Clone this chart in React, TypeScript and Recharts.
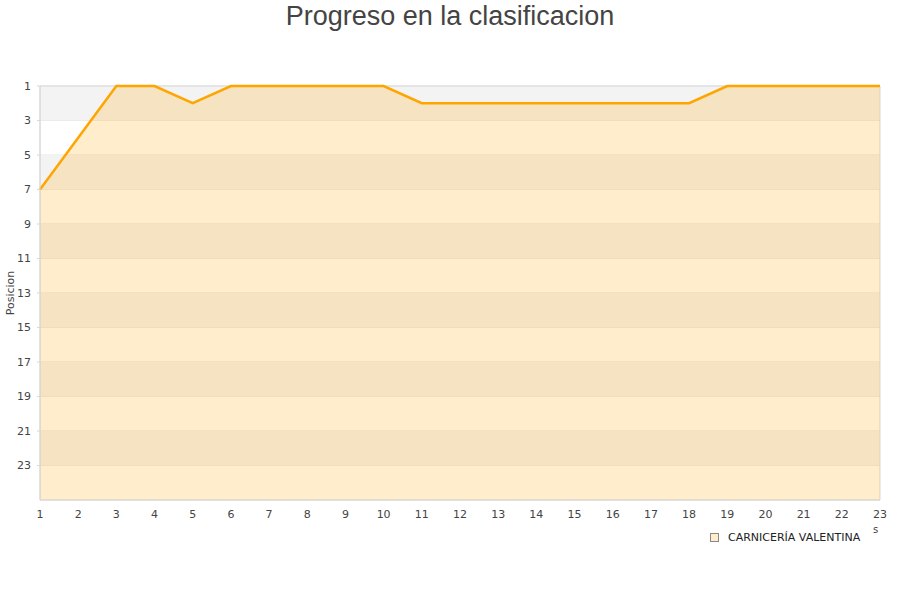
import {
  ComposedChart,
  Area,
  XAxis,
  YAxis,
  CartesianGrid,
  ReferenceArea,
  Legend,
} from "recharts";

const jornadas = [1, 2, 3, 4, 5, 6, 7, 8, 9, 10, 11, 12, 13, 14, 15, 16, 17, 18, 19, 20, 21, 22, 23];
const posiciones = [7, 4, 1, 1, 2, 1, 1, 1, 1, 1, 2, 2, 2, 2, 2, 2, 2, 2, 1, 1, 1, 1, 1];
const yTicks = [1, 3, 5, 7, 9, 11, 13, 15, 17, 19, 21, 23];
const grayBands = [
  [1, 3],
  [5, 7],
  [9, 11],
  [13, 15],
  [17, 19],
  [21, 23],
];

const teamName = "CARNICERÍA VALENTINA";

const data = jornadas.map((j, i) => ({ jornada: j, pos: posiciones[i] }));

const FONT = "'DejaVu Sans', sans-serif";

// eslint-disable-next-line @typescript-eslint/no-explicit-any
function YLabel({ viewBox }: any) {
  const cy = viewBox.y + viewBox.height / 2;
  return (
    <text
      x={14}
      y={cy}
      transform={`rotate(-90, 14, ${cy})`}
      textAnchor="middle"
      fontSize={11}
      fill="#444"
      fontFamily={FONT}
    >
      Posicion
    </text>
  );
}

function LegendBox() {
  return (
    <div style={{ display: "flex", alignItems: "center", fontFamily: FONT, fontSize: 11, color: "#222" }}>
      <span
        style={{
          display: "inline-block",
          width: 7,
          height: 7,
          border: "1px solid #888",
          background: "#ffedcc",
          marginRight: 9,
        }}
      />
      {teamName}
    </div>
  );
}

export default function App() {
  return (
    <div style={{ position: "absolute", left: 0, top: 0, width: 900, height: 600, background: "#fff" }}>
      <div
        style={{
          position: "absolute",
          top: 0,
          left: 0,
          width: 900,
          textAlign: "center",
          fontFamily: "'Liberation Sans', Arial, sans-serif",
          fontSize: 27,
          color: "#444",
          lineHeight: "32px",
        }}
      >
        Progreso en la clasificacion
      </div>
      <span
        style={{ position: "absolute", left: 873, top: 524, fontFamily: FONT, fontSize: 10, color: "#444" }}
      >
        s
      </span>
      <ComposedChart
        width={900}
        height={600}
        data={data}
        margin={{ top: 86, right: 20, left: 0, bottom: 54 }}
      >
        {grayBands.map(([a, b]) => (
          <ReferenceArea key={a} x1={1} x2={23} y1={a} y2={b} fill="#f3f3f3" fillOpacity={1} stroke="none" />
        ))}
        <CartesianGrid vertical={false} stroke="#e2e2e2" horizontalValues={yTicks} />
        <XAxis
          dataKey="jornada"
          type="number"
          domain={[1, 23]}
          ticks={jornadas}
          interval={0}
          height={30}
          tickLine={false}
          axisLine={{ stroke: "#d8d8d8" }}
          tick={{ fontSize: 11, fill: "#444", fontFamily: FONT }}
          tickMargin={4}
        />
        <YAxis
          type="number"
          reversed
          domain={[1, 25]}
          ticks={yTicks}
          interval={0}
          width={40}
          tickSize={3}
          tickLine={{ stroke: "#d8d8d8" }}
          axisLine={{ stroke: "#d8d8d8" }}
          tick={{ fontSize: 11, fill: "#444", fontFamily: FONT }}
          tickMargin={6}
          label={<YLabel />}
        />
        <ReferenceArea x1={1} x2={23} y1={1} y2={25} fill="none" stroke="#d8d8d8" />
        <Area
          type="linear"
          dataKey="pos"
          baseValue={25}
          stroke="#ffa500"
          strokeWidth={2.5}
          fill="#ffa500"
          fillOpacity={0.2}
          dot={false}
          activeDot={false}
          isAnimationActive={false}
          name={teamName}
        />
        <Legend
          content={<LegendBox />}
          wrapperStyle={{ position: "absolute", left: 710, top: 531, width: 180, height: 16 }}
        />
      </ComposedChart>
    </div>
  );
}
